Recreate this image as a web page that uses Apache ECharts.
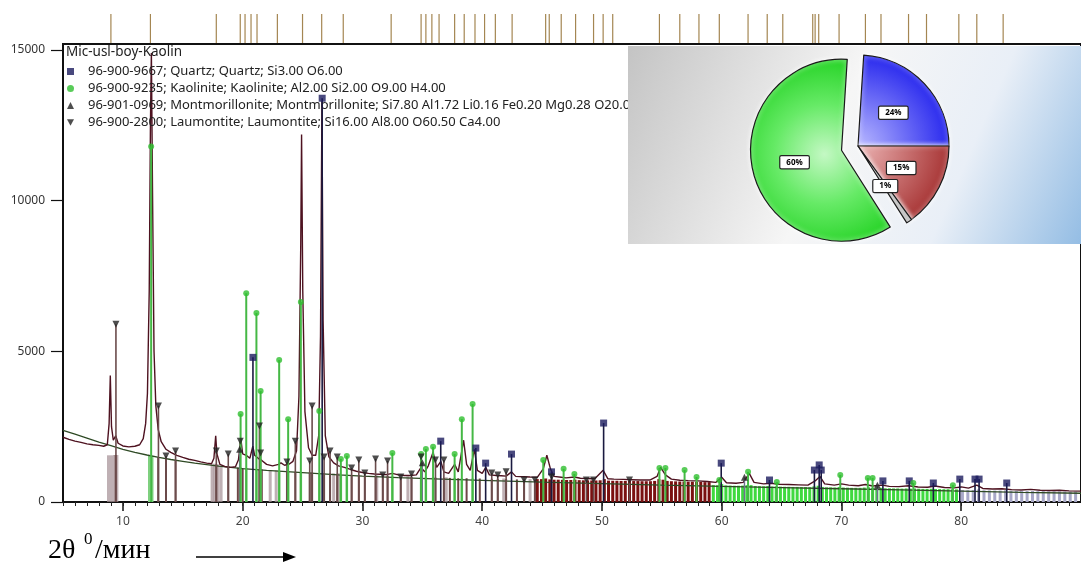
<!DOCTYPE html>
<html><head><meta charset="utf-8">
<script src="https://cdn.jsdelivr.net/npm/echarts@6/dist/echarts.min.js"></script>
<style>html,body{margin:0;padding:0;background:#fff}#c{width:1081px;height:565px}</style>
</head><body><div id="c"></div>
<script>
// ---------- DATA ----------
const xTickLabels = [10, 20, 30, 40, 50, 60, 70, 80];
const yTickValues = [0, 5000, 10000, 15000];
const chartTitle = 'Mic-usl-boy-Kaolin';
const phaseNames = [
  '96-900-9667; Quartz; Quartz; Si3.00 O6.00',
  '96-900-9235; Kaolinite; Kaolinite; Al2.00 Si2.00 O9.00 H4.00',
  '96-901-0969; Montmorillonite; Montmorillonite; Si7.80 Al1.72 Li0.16 Fe0.20 Mg0.28 O20.00',
  '96-900-2800; Laumontite; Laumontite; Si16.00 Al8.00 O60.50 Ca4.00'
];
const pieLabels = ['Quartz', 'Laumontite', 'Montmorillonite', 'Kaolinite'];
const pieValues = [24, 15, 1, 60];

const observed = [[5.0,2150],[5.5,2080],[6.0,2020],[6.5,1980],[7.0,1930],[7.5,1900],[8.0,1880],[8.4,1850],[8.7,1900],[8.85,2600],[8.95,4200],[9.05,2500],[9.2,2050],[9.4,2200],[9.6,1950],[10.0,1860],[10.5,1830],[11.0,1850],[11.4,1900],[11.7,2100],[11.9,2600],[12.05,3600],[12.2,7000],[12.3,12500],[12.38,14900],[12.47,10500],[12.6,5000],[12.75,3200],[12.95,2400],[13.2,2000],[13.6,1750],[14.0,1650],[14.5,1550],[15.0,1480],[15.5,1420],[16.0,1380],[16.5,1330],[17.0,1290],[17.4,1270],[17.6,1450],[17.75,2200],[17.85,1600],[18.1,1250],[18.5,1180],[19.0,1150],[19.4,1170],[19.65,1400],[19.85,2100],[20.0,1600],[20.3,1550],[20.6,1450],[20.85,1850],[21.0,1550],[21.3,1450],[21.6,1380],[22.0,1250],[22.5,1200],[23.0,1250],[23.2,1300],[23.5,1220],[23.9,1260],[24.2,1350],[24.5,1700],[24.7,3500],[24.85,8500],[24.92,12200],[25.02,7000],[25.2,3000],[25.5,1800],[25.8,1550],[26.1,1550],[26.35,2200],[26.5,5500],[26.62,13300],[26.72,6000],[26.9,2200],[27.2,1500],[27.6,1300],[28.0,1200],[28.5,1150],[29.0,1080],[29.5,1020],[30.0,980],[30.5,950],[31.0,930],[31.5,920],[32.0,910],[32.5,950],[33.0,900],[33.5,880],[34.0,880],[34.5,900],[34.9,1150],[35.2,1000],[35.5,1200],[35.9,1650],[36.2,1150],[36.55,1350],[36.8,1000],[37.2,950],[37.7,1250],[38.0,1000],[38.45,2050],[38.7,1250],[39.0,1050],[39.35,1750],[39.6,1050],[40.0,950],[40.3,1150],[40.6,900],[41.2,880],[41.6,870],[42.0,860],[42.45,1000],[42.8,850],[43.5,840],[44.0,830],[44.6,820],[45.1,1100],[45.4,1550],[45.7,1100],[46.0,850],[46.6,820],[47.0,800],[47.7,830],[48.2,790],[48.8,780],[49.4,770],[50.1,1050],[50.5,770],[51.0,760],[51.8,750],[52.5,740],[53.2,730],[54.0,730],[54.6,850],[54.9,1150],[55.3,900],[55.8,760],[56.5,720],[57.2,710],[58.0,700],[58.8,680],[59.5,650],[60.0,820],[60.4,640],[61.2,620],[61.8,650],[62.3,950],[62.7,650],[63.5,600],[64.1,620],[64.8,590],[65.6,580],[66.4,570],[67.2,560],[67.8,700],[68.2,850],[68.6,600],[69.4,560],[70.0,600],[70.6,560],[71.4,540],[72.0,580],[72.6,530],[73.4,560],[74.0,520],[74.8,510],[75.6,540],[76.4,500],[77.2,490],[77.8,530],[78.6,480],[79.4,470],[80.0,500],[80.6,460],[81.3,560],[81.8,450],[82.6,430],[83.4,440],[84.2,410],[85.0,400],[85.8,420],[86.6,390],[87.4,380],[88.2,390],[89.0,370],[90.0,360]];

const background = [[5,2380],[6,2250],[7,2120],[8,1990],[9,1870],[10,1750],[11,1650],[12,1560],[13,1480],[14,1410],[15,1350],[16,1290],[17,1240],[18,1190],[19,1150],[20,1110],[22,1050],[24,1000],[26,950],[28,900],[30,860],[33,810],[36,770],[40,720],[45,660],[50,610],[55,560],[60,520],[65,480],[70,440],[75,400],[80,360],[85,320],[90,290]];

const quartzSticks = [[20.86,4800],[26.64,13400],[36.54,2020],[39.47,1790],[40.29,1290],[42.45,1590],[45.79,1000],[50.14,2620],[59.96,1290],[63.99,730],[67.74,1060],[68.14,1230],[68.31,1060],[73.46,700],[75.66,700],[77.67,630],[79.88,760],[81.15,760],[81.49,760],[83.8,630]];
const kaoliniteSticks = [[12.36,11800],[19.83,2920],[20.3,6930],[21.15,6270],[21.5,3680],[23.05,4710],[23.8,2750],[24.86,6640],[26.4,3020],[28.2,1430],[28.7,1530],[32.5,1630],[34.9,1590],[35.3,1760],[35.9,1830],[37.7,1590],[38.3,2750],[39.2,3250],[45.1,1390],[46.8,1100],[47.7,930],[54.8,1130],[55.3,1130],[56.9,1060],[57.9,830],[59.8,730],[62.2,1000],[64.6,660],[69.9,900],[72.2,800],[72.6,800],[76.0,630],[79.3,560]];
const montmorilloniteSticks = [[19.75,1750],[35.0,1300],[61.9,820],[73.0,560]];
const laumontiteSticks = [[9.42,5900],[12.97,3190],[13.6,1530],[14.4,1690],[17.8,1690],[18.8,1590],[19.8,2020],[21.4,2520],[21.5,1630],[23.7,1330],[24.4,2020],[25.6,1360],[25.8,3190],[26.8,1490],[27.3,1690],[27.9,1490],[29.1,1130],[29.7,1390],[30.2,960],[31.1,1430],[31.7,900],[32.1,1360],[33.2,830],[34.1,930],[34.9,1490],[36.1,1390],[36.8,1390],[40.8,960],[41.3,900],[42.0,1000],[43.5,730],[44.4,730],[45.8,830],[48.7,730],[49.3,730],[52.3,730]];

const bottomGray = [[8.8,1550],[9.05,1550],[9.3,1560],[9.5,1560],[17.45,1250],[17.65,1270],[17.95,1250],[18.2,1200],[22.3,1050],[22.8,1050],[27.6,950],[28.05,950],[31.2,880],[33.8,850],[37.0,820],[41.8,780],[44.0,760]];
const bottomBrown = [[9.4,1560],[12.95,1480],[13.6,1430],[14.4,1380],[17.8,1250],[18.8,1180],[19.6,1140],[20.0,1120],[21.4,1080],[21.6,1080],[23.7,1020],[24.4,1000],[25.6,980],[25.8,980],[26.8,960],[27.3,950],[27.9,940],[29.1,900],[29.7,890],[30.2,880],[31.1,870],[31.7,860],[32.1,860],[33.2,840],[34.1,830],[34.9,830],[36.1,810],[36.8,800],[37.3,800],[38.0,790],[38.7,790],[39.8,780],[40.8,770],[41.3,770],[42.0,760],[42.9,750],[43.5,750],[44.4,740]];
const bottomGreen = [[12.2,1530],[12.45,1530],[19.83,1140],[20.3,1120],[21.15,1080],[21.5,1070],[23.05,1030],[23.8,1010],[24.86,990],[26.4,960],[28.2,920],[28.7,910],[32.5,850],[34.9,830],[35.3,820],[35.9,820],[37.7,800],[38.3,790],[39.2,780],[45.1,750],[46.8,740],[47.7,730]];
const bottomMaroon = [[44.6,760],[44.95,760],[45.3,780],[45.65,750],[46.0,740],[46.35,740],[46.7,735],[47.05,730],[47.4,730],[47.75,740],[48.1,725],[48.45,720],[48.8,720],[49.15,715],[49.5,715],[49.85,720],[50.2,760],[50.55,710],[50.9,705],[51.25,705],[51.6,700],[51.95,700],[52.3,700],[52.65,695],[53.0,695],[53.35,690],[53.7,690],[54.05,690],[54.4,700],[54.75,760],[55.1,740],[55.45,700],[55.8,690],[56.15,685],[56.5,680],[56.85,680],[57.2,675],[57.55,675],[57.9,670],[58.25,665],[58.6,660],[58.95,660]];
const bottomGreenDense = [[59.3,560],[59.65,555],[60.0,600],[60.35,550],[60.7,545],[61.05,540],[61.4,540],[61.75,545],[62.1,560],[62.45,560],[62.8,530],[63.15,525],[63.5,520],[63.85,530],[64.2,515],[64.55,520],[64.9,510],[65.25,505],[65.6,505],[65.95,500],[66.3,500],[66.65,495],[67.0,495],[67.35,490],[67.7,520],[68.05,540],[68.4,500],[68.75,485],[69.1,485],[69.45,480],[69.8,500],[70.15,480],[70.5,475],[70.85,470],[71.2,470],[71.55,470],[71.9,480],[72.25,490],[72.6,470],[72.95,460],[73.3,470],[73.65,455],[74.0,455],[74.35,450],[74.7,450],[75.05,445],[75.4,450],[75.75,445],[76.1,450],[76.45,440],[76.8,435],[77.15,435],[77.5,440],[77.85,430],[78.2,430],[78.55,425],[78.9,425],[79.25,425],[79.6,420]];
const bottomLavender = [[80.1,400],[80.55,395],[81.0,400],[81.45,420],[81.9,390],[82.35,385],[82.8,380],[83.25,380],[83.7,390],[84.15,375],[84.6,370],[85.05,370],[85.5,365],[85.95,365],[86.4,360],[86.85,360],[87.3,355],[87.75,355],[88.2,350],[88.65,350],[89.1,345],[89.55,345]];

const topTicks = [9.0,12.3,17.8,19.8,20.2,20.7,21.2,22.9,25.0,26.6,28.4,32.4,34.9,35.3,35.8,36.4,37.7,38.5,39.4,40.2,41.1,42.5,45.3,45.6,46.6,47.8,49.3,50.1,50.9,54.8,56.5,58.1,59.8,62.2,63.8,65.1,67.6,67.8,68.1,69.8,72.0,73.3,75.6,77.1,79.8,81.3,83.5];

// ---------- CHART ----------
const chart = echarts.init(document.getElementById('c'), null, {renderer: 'canvas'});
const FONT = 'Noto Sans';
const SERIF = 'Liberation Serif';

function stickSeries(name, data, color, width, z) {
  return {
    type: 'custom', name: name, xAxisIndex: 0, yAxisIndex: 0, clip: true, z: z || 2, silent: true,
    data: data,
    renderItem: function (params, api) {
      const x = api.value(0), y = api.value(1);
      const p0 = api.coord([x, 0]), p1 = api.coord([x, y]);
      return {type: 'line', shape: {x1: p0[0], y1: p0[1], x2: p1[0], y2: p1[1]},
        style: {stroke: color, lineWidth: width}};
    }
  };
}
function markerSeries(name, data, symbol, size, color) {
  return {type: 'scatter', name: name, xAxisIndex: 0, yAxisIndex: 0, data: data, symbol: symbol,
    symbolSize: size, itemStyle: {color: color}, z: 5, silent: true};
}
const downTri = 'path://M0,0L10,0L5,9Z';

const option = {
  animation: false,
  backgroundColor: '#ffffff',
  title: {text: chartTitle, left: 66, top: 45, padding: 0,
    textStyle: {fontFamily: FONT, fontSize: 13.5, fontWeight: 'normal', color: '#222'}},
  legend: {
    data: phaseNames, orient: 'vertical', left: 67, top: 65, itemGap: 4, padding: 0,
    itemWidth: 7, itemHeight: 7, selectedMode: false,
    textStyle: {fontFamily: FONT, fontSize: 13, color: '#222', padding: [0, 0, 0, 9]}
  },
  grid: [
    {left: 63, top: 44, width: 1030, height: 458, show: true, borderColor: '#111', borderWidth: 2, backgroundColor: 'transparent'},
    {left: 63, top: 14, width: 1030, height: 29}
  ],
  xAxis: [
    {gridIndex: 0, type: 'value', min: 5, max: 90, position: 'bottom',
      axisLine: {lineStyle: {color: '#111', width: 2}},
      axisTick: {customValues: xTickLabels, length: 9, lineStyle: {color: '#111', width: 1.5}},
      axisLabel: {customValues: xTickLabels, margin: 14, color: '#444', fontFamily: FONT, fontSize: 12},
      splitLine: {show: false}},
    {gridIndex: 0, type: 'value', min: 5, max: 90, interval: 1, position: 'bottom',
      axisLine: {show: false}, axisTick: {length: 4, lineStyle: {color: '#222', width: 1}},
      axisLabel: {show: false}, splitLine: {show: false}},
    {gridIndex: 1, type: 'value', min: 5, max: 90, show: false}
  ],
  yAxis: [
    {gridIndex: 0, type: 'value', min: 0, max: 15200,
      axisLine: {show: true, lineStyle: {color: '#111', width: 1.5}},
      axisTick: {show: true, customValues: yTickValues, length: 12, lineStyle: {color: '#111', width: 1.2}},
      axisLabel: {customValues: yTickValues, margin: 18, color: '#333', fontFamily: FONT, fontSize: 12,
        formatter: function (v) { return String(v); }},
      splitLine: {show: false}},
    {gridIndex: 1, type: 'value', min: 0, max: 1, show: false}
  ],
  graphic: [
    {type: 'rect', left: 628, top: 46, z: 50, silent: true, shape: {width: 453, height: 198},
      style: {fill: new echarts.graphic.LinearGradient(0, 0, 1, 1, [
        {offset: 0, color: '#c4c4c4'}, {offset: 0.45, color: '#f6f6f6'},
        {offset: 0.72, color: '#e9eff7'}, {offset: 1, color: '#94bde4'}])}},
    {type: 'text', z: 50, style: {x: 48, y: 537, text: '2θ', verticalAlign: 'top', fontSize: 28, fontFamily: SERIF, fill: '#000'}},
    {type: 'text', z: 50, style: {x: 84, y: 531, text: '0', verticalAlign: 'top', fontSize: 17, fontFamily: SERIF, fill: '#000'}},
    {type: 'text', z: 50, style: {x: 95, y: 537, text: '/мин', verticalAlign: 'top', fontSize: 28, fontFamily: SERIF, fill: '#000'}},
    {type: 'line', z: 50, shape: {x1: 196, y1: 557, x2: 286, y2: 557}, style: {stroke: '#000', lineWidth: 1.3}},
    {type: 'polygon', z: 50, shape: {points: [[283, 552], [296, 557], [283, 562]]}, style: {fill: '#000'}}
  ],
  series: [
    stickSeries('bg1', bottomGray, 'rgba(170,150,155,0.75)', 3, 1),
    stickSeries('bg2', bottomBrown, '#6e4646', 2, 1),
    stickSeries('bg3', bottomGreen, '#7fd07f', 2.5, 1),
    stickSeries('bg4', bottomMaroon, '#7a1010', 3, 1),
    stickSeries('bg5', bottomGreenDense, '#3fd93f', 3, 1),
    stickSeries('bg6', bottomLavender, '#a8a8c8', 3, 1),
    {type: 'line', name: 'background', xAxisIndex: 0, yAxisIndex: 0, data: background, showSymbol: false,
      lineStyle: {color: '#2f4a25', width: 1.3}, z: 3, silent: true},
    {type: 'line', name: 'observed', xAxisIndex: 0, yAxisIndex: 0, data: observed, showSymbol: false,
      lineStyle: {color: '#4e1220', width: 1.4}, z: 3, silent: true},
    stickSeries('s-laum', laumontiteSticks, '#6b4c4c', 1.6, 4),
    stickSeries('s-mont', montmorilloniteSticks, '#707090', 1.4, 4),
    stickSeries('s-kaol', kaoliniteSticks, '#45b845', 2, 4),
    stickSeries('s-qtz', quartzSticks, '#1a1a40', 1.6, 4),
    markerSeries(phaseNames[0], quartzSticks, 'rect', 7, '#1b1b5e'),
    markerSeries(phaseNames[1], kaoliniteSticks, 'circle', 6, '#2fbf2f'),
    markerSeries(phaseNames[2], montmorilloniteSticks, 'triangle', 7, '#222'),
    markerSeries(phaseNames[3], laumontiteSticks, downTri, 7, '#222'),
    {type: 'custom', name: 'topticks', xAxisIndex: 2, yAxisIndex: 1, data: topTicks.map(v => [v, 1]), silent: true,
      renderItem: function (params, api) {
        const p0 = api.coord([api.value(0), 0]), p1 = api.coord([api.value(0), 1]);
        return {type: 'line', shape: {x1: p0[0], y1: p0[1], x2: p1[0], y2: p1[1]}, style: {stroke: '#a48652', lineWidth: 1.2}};
      }},
    {type: 'pie', name: 'pie', z: 60, center: [858, 146], radius: 91, startAngle: 86.4, clockwise: true,
      selectedMode: 'single', selectedOffset: 17, silent: true, avoidLabelOverlap: false,
      label: {position: 'inside', formatter: '{c}%', fontSize: 8, fontWeight: 'bold', color: '#000',
        backgroundColor: '#fff', borderColor: '#222', borderWidth: 1.2, borderRadius: 1, padding: [2, 6], fontFamily: FONT},
      labelLine: {show: false},
      itemStyle: {borderColor: '#1a1a1a', borderWidth: 1.2, shadowBlur: 5, shadowColor: 'rgba(255,255,255,1)'},
      data: [
        {name: pieLabels[0], value: pieValues[0], itemStyle: {color: {type: 'radial', global: true, x: 858, y: 146, r: 91,
          colorStops: [{offset: 0, color: '#b8b8ff'}, {offset: 1, color: '#2a2aee'}]}}},
        {name: pieLabels[1], value: pieValues[1], itemStyle: {color: {type: 'radial', global: true, x: 858, y: 146, r: 91,
          colorStops: [{offset: 0, color: '#ecb4b4'}, {offset: 1, color: '#a83636'}]}}},
        {name: pieLabels[2], value: pieValues[2], itemStyle: {color: '#b5b5b5'}},
        {name: pieLabels[3], value: pieValues[3], selected: true, itemStyle: {color: {type: 'radial', global: true, x: 841, y: 150, r: 91,
          colorStops: [{offset: 0, color: '#c4f8c4'}, {offset: 0.55, color: '#66ea66'}, {offset: 1, color: '#2ed62e'}]}}}
      ]}
  ]
};
chart.setOption(option);
</script></body></html>
